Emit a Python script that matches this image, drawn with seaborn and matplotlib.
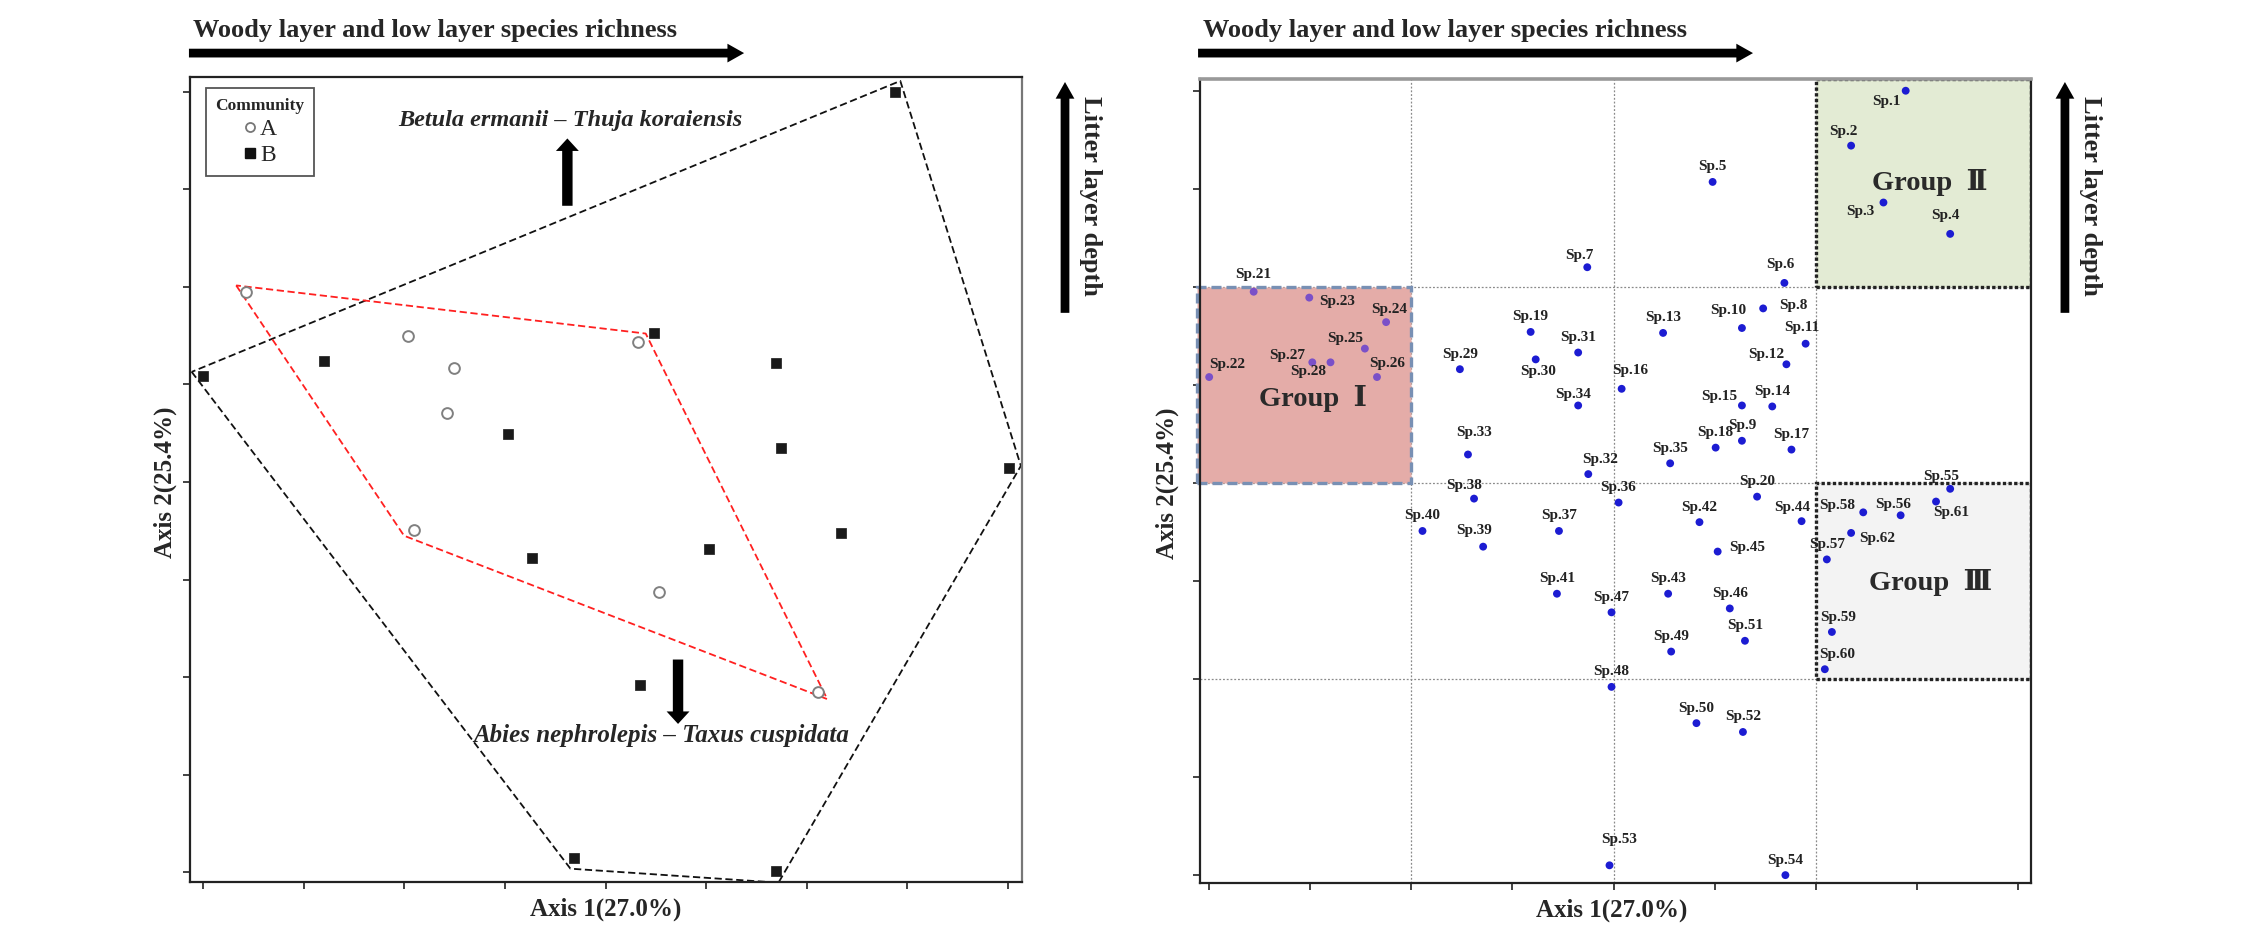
import numpy as np
import pandas as pd
import matplotlib
matplotlib.use('Agg')
import matplotlib.pyplot as plt
import seaborn as sns
from matplotlib.patches import Rectangle
from matplotlib.lines import Line2D

sns.set_theme(style='white')
plt.rcParams['font.family'] = ['Liberation Serif', 'DejaVu Serif']

# ---- site scores (left panel) ----
site_community = ['A'] * 8 + ['B'] * 14
site_x = [0.43, 2.04, 2.49, 4.32, 2.42, 2.10, 4.53, 6.11,
          6.88, 0.00, 1.20, 4.48, 5.69, 3.03, 5.74, 8.01, 6.34, 3.27, 5.03, 4.34, 3.69, 5.69]
site_y = [5.95, 5.50, 5.17, 5.43, 4.71, 3.51, 2.87, 1.85,
          8.00, 5.09, 5.24, 5.53, 5.22, 4.49, 4.35, 4.14, 3.48, 3.22, 3.31, 1.92, 0.15, 0.01]

# ---- species scores (right panel) ----
species_names = ['Sp.%d' % i for i in range(1, 63)]
species_x = [6.89, 6.35, 6.67, 7.33, 4.98, 5.69, 3.74, 5.48, 5.27, 5.27,
             5.90, 5.71, 4.49, 5.57, 5.27, 4.08, 5.76, 5.01, 3.18, 5.42,
             0.44, 0.00, 0.99, 1.75, 1.54, 1.66, 1.02, 1.20, 2.48, 3.23,
             3.65, 3.75, 2.56, 3.65, 4.56, 4.05, 3.46, 2.62, 2.71, 2.11,
             3.44, 4.85, 4.54, 5.86, 5.03, 5.15, 3.98, 3.98, 4.57, 4.82,
             5.30, 5.28, 3.96, 5.70, 7.33, 6.84, 6.11, 6.47, 6.16, 6.09,
             7.19, 6.35]
species_y = [8.00, 7.44, 6.86, 6.54, 7.07, 6.04, 6.20, 5.78, 4.43, 5.58,
             5.42, 5.21, 5.53, 4.78, 4.79, 4.96, 4.34, 4.36, 5.54, 3.86,
             5.95, 5.08, 5.89, 5.64, 5.37, 5.08, 5.23, 5.23, 5.16, 5.26,
             5.33, 4.09, 4.29, 4.79, 4.20, 3.80, 3.51, 3.84, 3.35, 3.51,
             2.87, 3.60, 2.87, 3.61, 3.30, 2.72, 2.68, 1.92, 2.28, 1.55,
             2.39, 1.46, 0.10, 0.00, 3.94, 3.67, 3.22, 3.70, 2.48, 2.10,
             3.81, 3.49]

grid_breaks = [2, 4, 6]
group_names = ['Group  Ⅰ', 'Group  Ⅱ', 'Group  Ⅲ']

# label placement (pixels, relative to the dot); default is centred above
label_shift = {
    'Sp.1': (-19, -11), 'Sp.2': (-8, 14), 'Sp.3': (-23, -9), 'Sp.4': (-5, 18),
    'Sp.6': (-4, 18), 'Sp.7': (-8, 12), 'Sp.8': (30, 3), 'Sp.10': (-14, 18),
    'Sp.11': (-4, 16), 'Sp.12': (-20, 10), 'Sp.15': (-23, 9), 'Sp.16': (9, 18),
    'Sp.21': (0, 17), 'Sp.22': (18, 13), 'Sp.23': (28, -4), 'Sp.24': (3, 13),
    'Sp.25': (-20, 10), 'Sp.26': (10, 14), 'Sp.27': (-25, 7), 'Sp.28': (-22, -9),
    'Sp.30': (2, -12), 'Sp.32': (12, 15), 'Sp.33': (6, 22), 'Sp.34': (-5, 11),
    'Sp.38': (-10, 13), 'Sp.39': (-9, 16), 'Sp.44': (-9, 14), 'Sp.45': (30, 4),
    'Sp.53': (10, 26), 'Sp.55': (-9, 12), 'Sp.56': (-7, 11), 'Sp.58': (-26, 7),
    'Sp.59': (6, 14), 'Sp.60': (12, 15), 'Sp.61': (15, -11), 'Sp.62': (26, -6),
}


def convex_hull(pts):
    pts = sorted(set(pts))

    def cross(o, a, b):
        return (a[0] - o[0]) * (b[1] - o[1]) - (a[1] - o[1]) * (b[0] - o[0])
    lower, upper = [], []
    for p in pts:
        while len(lower) >= 2 and cross(lower[-2], lower[-1], p) <= 0:
            lower.pop()
        lower.append(p)
    for p in reversed(pts):
        while len(upper) >= 2 and cross(upper[-2], upper[-1], p) <= 0:
            upper.pop()
        upper.append(p)
    return np.array(lower[:-1] + upper[:-1])


def padded(h, d):
    c = h.mean(axis=0)
    v = h - c
    n = np.sqrt((v ** 2).sum(axis=1))[:, None]
    out = h + d * v / n
    return np.vstack([out, out[:1]])


fig = plt.figure(figsize=(22.44, 9.48), dpi=100)
ax1 = fig.add_axes([0.0847, 0.0696, 0.3708, 0.8492])
ax2 = fig.add_axes([0.5348, 0.0686, 0.3703, 0.8481])

# ---------------- left panel ----------------
sites = pd.DataFrame({'community': site_community, 'x': site_x, 'y': site_y})
a = sites[sites.community == 'A']
b = sites[sites.community == 'B']
sns.scatterplot(data=a, x='x', y='y', ax=ax1, marker='o', s=60,
                facecolor='white', edgecolor='#808080', linewidth=1.4, zorder=3)
sns.scatterplot(data=b, x='x', y='y', ax=ax1, marker='s', s=55,
                color='#1a1a1a', edgecolor='#1a1a1a', linewidth=0.5, zorder=3)

for grp, col in [(b, '#111111'), (a, '#ff2020')]:
    h = padded(convex_hull(list(zip(grp.x, grp.y))), 0.12)
    ax1.plot(h[:, 0], h[:, 1], color=col, lw=1.3, ls=(0, (4, 2)), zorder=2)

ax1.text(3.65, 7.70, 'Betula ermanii – Thuja koraiensis', ha='center', va='center',
         fontsize=17.5, fontweight='bold', fontstyle='italic')
ax1.annotate('', xy=(3.62, 7.52), xytext=(3.62, 6.83),
             arrowprops=dict(arrowstyle='simple,head_length=0.6,head_width=1.1,tail_width=0.5',
                             mutation_scale=15, fc='black', ec='none', shrinkA=0, shrinkB=0))
ax1.text(4.55, 1.40, 'Abies nephrolepis – Taxus cuspidata', ha='center', va='center',
         fontsize=18, fontweight='bold', fontstyle='italic')
ax1.annotate('', xy=(4.72, 1.52), xytext=(4.72, 2.18),
             arrowprops=dict(arrowstyle='simple,head_length=0.6,head_width=1.1,tail_width=0.5',
                             mutation_scale=15, fc='black', ec='none', shrinkA=0, shrinkB=0))

handles = [Line2D([], [], ls='none', marker='o', ms=6.5, mfc='white', mec='#777777', mew=1.3, label='A'),
           Line2D([], [], ls='none', marker='s', ms=6.5, mfc='#111111', mec='#111111', label='B')]
leg = ax1.legend(handles=handles, title='Community', loc='upper left',
                 bbox_to_anchor=(0.019, 0.986), borderaxespad=0, frameon=True, fancybox=False,
                 edgecolor='#555555', framealpha=1, fontsize=17,
                 title_fontproperties={'weight': 'bold', 'size': 12.5},
                 handlelength=0.6, handletextpad=0.15, labelspacing=0.2, borderpad=0.4)
leg.get_frame().set_linewidth(1.3)
leg._legend_box.align = 'center'

ax1.set_xlim(-0.13, 8.14)
ax1.set_ylim(-0.10, 8.15)

# ---------------- right panel ----------------
for g in grid_breaks:
    ax2.axvline(g, color='#8a8a8a', lw=0.9, ls=(0, (1.5, 1.5)), zorder=1)
    ax2.axhline(g, color='#8a8a8a', lw=0.9, ls=(0, (1.5, 1.5)), zorder=1)

x0, x1 = -0.09, 8.13
y0, y1 = -0.08, 8.12
ax2.add_patch(Rectangle((-0.12, grid_breaks[1]), grid_breaks[0] + 0.12, grid_breaks[2] - grid_breaks[1],
                        fc='#e4aca8', ec='#7890b4', lw=2.4, ls=(0, (3, 1.5)), zorder=1.5, clip_on=False))
ax2.add_patch(Rectangle((grid_breaks[2], grid_breaks[2]), x1 - grid_breaks[2], y1 - grid_breaks[2],
                        fc='#e3ebd4', ec='#222222', lw=2.4, ls=(0, (1, 0.7)), zorder=1.5))
ax2.add_patch(Rectangle((grid_breaks[2], grid_breaks[0]), x1 - grid_breaks[2], grid_breaks[1] - grid_breaks[0],
                        fc='#f3f3f3', ec='#222222', lw=2.4, ls=(0, (1, 0.7)), zorder=1.5))

species = pd.DataFrame({'name': species_names, 'x': species_x, 'y': species_y})
species['in_g1'] = (species.x < grid_breaks[0]) & (species.y > grid_breaks[1]) & (species.y < grid_breaks[2])
sns.scatterplot(data=species, x='x', y='y', hue='in_g1', palette={False: '#1c1cd2', True: '#7a50c8'},
                ax=ax2, s=32, edgecolor='none', legend=False, zorder=3)

for name, x, y in zip(species.name, species.x, species.y):
    dx, dy = label_shift.get(name, (0, 15))
    ax2.annotate(name, (x, y), xytext=(dx * 0.72, dy * 0.72), textcoords='offset points',
                 ha='center', va='center', fontsize=11, fontweight='bold', color='#222222', zorder=5)

group_pos = [(1.03, 4.86), (7.13, 7.06), (7.14, 2.98)]
for name, (gx, gy) in zip(group_names, group_pos):
    ax2.text(gx, gy, name, ha='center', va='center', fontsize=20.5, fontweight='bold',
             color='#2a2a2a', zorder=5)

ax2.set_xlim(x0, x1)
ax2.set_ylim(y0, y1)

# ---------------- shared styling ----------------
for ax, xl, yl in [(ax1, 0.499, -0.030), (ax2, 0.495, -0.040)]:
    ax.set_xticks(range(9))
    ax.set_yticks(range(9))
    ax.set_xticklabels([])
    ax.set_yticklabels([])
    ax.tick_params(bottom=True, left=True, direction='out', length=5, width=1.2, color='#222222')
    ax.set_xlabel('Axis 1(27.0%)', fontsize=18, fontweight='bold', va='center')
    ax.set_ylabel('Axis 2(25.4%)', fontsize=18, fontweight='bold', va='center')
    ax.xaxis.set_label_coords(xl, -0.034)
    ax.yaxis.set_label_coords(yl, 0.497)
    for s in ax.spines.values():
        s.set_color('#222222')
        s.set_linewidth(1.6)
ax1.spines['right'].set_color('#777777')
ax2.spines['top'].set_color('#999999')
ax2.spines['top'].set_linewidth(2.6)

# header arrows and side arrows
arrow_style = 'simple,head_length=0.8,head_width=0.9,tail_width=0.42'
for left, right in [(0.0842, 0.3316), (0.5339, 0.7812)]:
    fig.text(left + 0.002, 0.968, 'Woody layer and low layer species richness',
             ha='left', va='center', fontsize=19, fontweight='bold')
    ax1.annotate('', xy=(right, 0.944), xytext=(left, 0.944), xycoords='figure fraction',
                 textcoords='figure fraction', annotation_clip=False,
                 arrowprops=dict(arrowstyle=arrow_style, mutation_scale=15, fc='black', ec='none',
                                 shrinkA=0, shrinkB=0))
for xa, xt in [(0.4746, 0.4858), (0.9202, 0.9314)]:
    ax1.annotate('', xy=(xa, 0.9135), xytext=(xa, 0.670), xycoords='figure fraction',
                 textcoords='figure fraction', annotation_clip=False,
                 arrowprops=dict(arrowstyle=arrow_style, mutation_scale=15, fc='black', ec='none',
                                 shrinkA=0, shrinkB=0))
    fig.text(xt, 0.793, 'Litter layer depth', rotation=270, ha='center', va='center',
             fontsize=19, fontweight='bold')

fig.savefig('out.png', dpi=100)
